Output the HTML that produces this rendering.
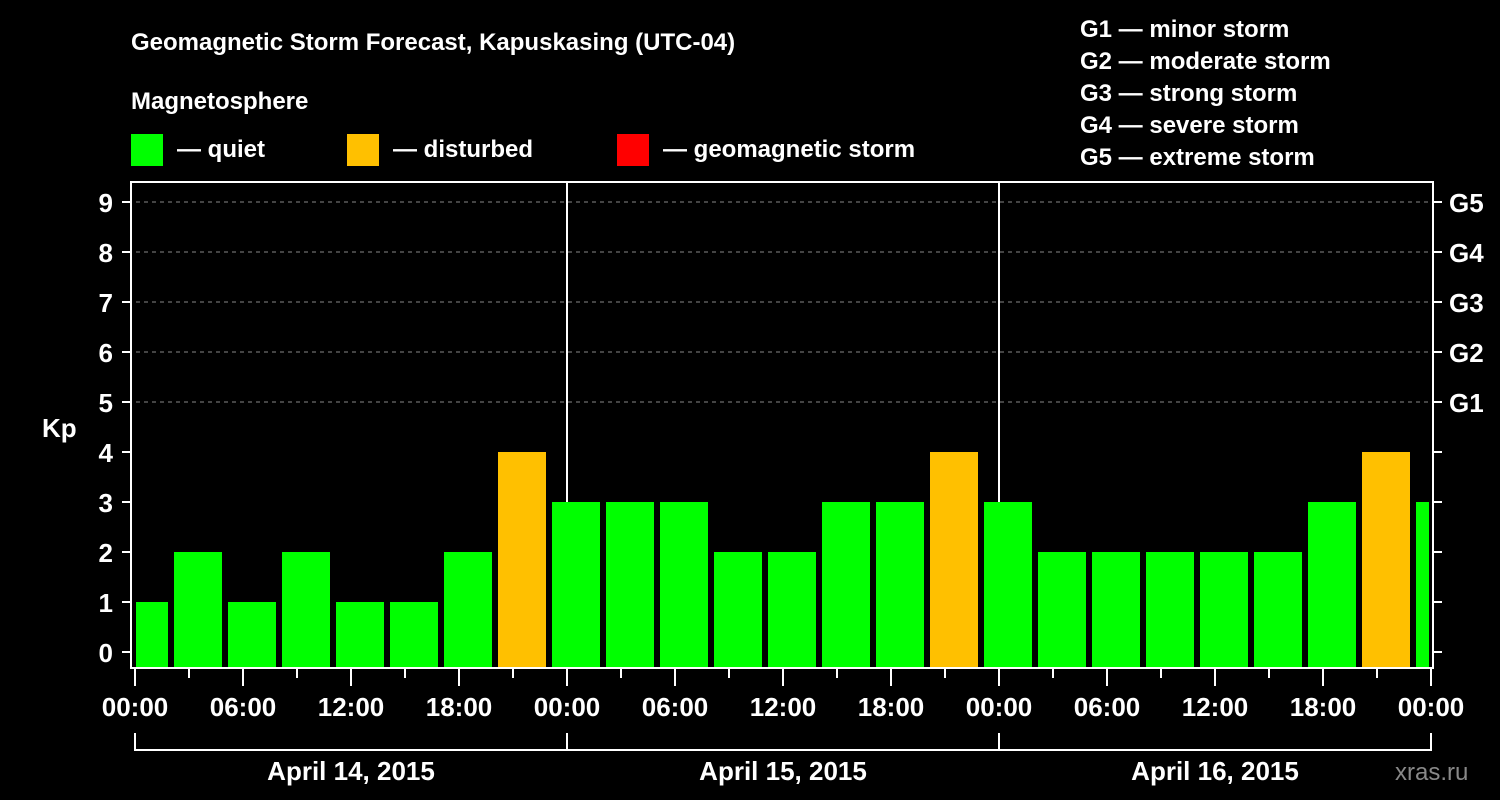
<!DOCTYPE html>
<html><head><meta charset="utf-8"><style>
html,body{margin:0;padding:0;background:#000;}
svg{display:block;font-family:"Liberation Sans",Arial,sans-serif;font-weight:bold;}
</style></head><body>
<svg id="c" width="1500" height="800" viewBox="0 0 1500 800">
<rect width="1500" height="800" fill="#000"/>
<text x="131" y="50" fill="#fff" font-size="24">Geomagnetic Storm Forecast, Kapuskasing (UTC-04)</text>
<text x="131" y="109" fill="#fff" font-size="24">Magnetosphere</text>
<g><rect x="131" y="134" width="32" height="32" fill="#00ff00"/><text x="177" y="157" fill="#fff" font-size="24">— quiet</text></g>
<g><rect x="347" y="134" width="32" height="32" fill="#ffc000"/><text x="393" y="157" fill="#fff" font-size="24">— disturbed</text></g>
<g><rect x="617" y="134" width="32" height="32" fill="#ff0000"/><text x="663" y="157" fill="#fff" font-size="24">— geomagnetic storm</text></g>
<g fill="#fff" font-size="24">
<text x="1080" y="37">G1 — minor storm</text>
<text x="1080" y="69">G2 — moderate storm</text>
<text x="1080" y="101">G3 — strong storm</text>
<text x="1080" y="133">G4 — severe storm</text>
<text x="1080" y="165">G5 — extreme storm</text>
</g>
<text x="42" y="437" fill="#fff" font-size="26">Kp</text>
<text x="1395" y="780" fill="#888" font-size="24" font-weight="normal">xras.ru</text>
<defs><clipPath id="pc"><rect x="136" y="182" width="1293" height="486"/></clipPath></defs>
<g id="grid"></g>
<g id="bars" clip-path="url(#pc)"></g>
<g id="axes"></g>
</svg>
<script>
const kpValues=[1,2,1,2,1,1,2,4, 3,3,3,2,2,3,3,4, 3,2,2,2,2,2,3,4, 3];
const yTicks=[0,1,2,3,4,5,6,7,8,9];
const gLabels=["G1","G2","G3","G4","G5"];
const xTickLabels=["00:00","06:00","12:00","18:00","00:00","06:00","12:00","18:00","00:00","06:00","12:00","18:00","00:00"];
const dayLabels=["April 14, 2015","April 15, 2015","April 16, 2015"];
const NS="http://www.w3.org/2000/svg";
const x0=135,pxPerHour=18,yZero=652,pxPerKp=50;
const xs=h=>x0+h*pxPerHour;
const ys=v=>yZero-v*pxPerKp;
function mk(tag,at,parent,txt){const e=document.createElementNS(NS,tag);for(const k in at)e.setAttribute(k,at[k]);if(txt!==undefined)e.textContent=txt;parent.appendChild(e);return e;}
const grid=document.getElementById('grid'),bars=document.getElementById('bars'),axes=document.getElementById('axes');
const color=v=>v>=5?"#ff0000":(v>=4?"#ffc000":"#00ff00");
kpValues.forEach((v,i)=>{const c=xs(3*i+0.5);
 const r=mk('rect',{x:c-24,y:ys(v),width:48,height:668-ys(v),fill:color(v)},bars);
 
 });
// gridlines G1..G5 at Kp 5..9
gLabels.forEach((g,i)=>{const y=ys(5+i);
 const l=mk('line',{x1:136,x2:1432,y1:y,y2:y,stroke:'#888','stroke-dasharray':'4,4','stroke-width':1},grid);
 
 
 const t=mk('text',{x:1449,y:y+10,fill:'#fff','font-size':26},axes,g);
 
 });
// day separators
[1,2].forEach(d=>{const l=mk('line',{x1:xs(24*d),x2:xs(24*d),y1:182,y2:668,stroke:'#fff','stroke-width':2},grid);
 
 });
// frame
const f=mk('rect',{x:131,y:182,width:1302,height:486,fill:'none',stroke:'#fff','stroke-width':2},axes);


yTicks.forEach(v=>{const y=ys(v);
 mk('line',{x1:122,x2:131,y1:y,y2:y,stroke:'#fff','stroke-width':2},axes);
 mk('line',{x1:1433,x2:1442,y1:y,y2:y,stroke:'#fff','stroke-width':2},axes);
 const t=mk('text',{x:113,y:y+10,fill:'#fff','font-size':26,'text-anchor':'end'},axes,String(v));
 
 });
for(let h=0;h<=72;h+=3){const x=xs(h);
 mk('line',{x1:x,x2:x,y1:669,y2:h%6===0?686:678,stroke:'#fff','stroke-width':2},axes);}
xTickLabels.forEach((s,i)=>{const t=mk('text',{x:xs(6*i),y:716,fill:'#fff','font-size':26,'text-anchor':'middle'},axes,s);
 
 });
mk('line',{x1:xs(0),x2:xs(72),y1:750,y2:750,stroke:'#fff','stroke-width':2},axes);
for(let d=0;d<=3;d++){mk('line',{x1:xs(24*d),x2:xs(24*d),y1:733,y2:751,stroke:'#fff','stroke-width':2},axes);}
dayLabels.forEach((s,i)=>{const t=mk('text',{x:xs(24*i+12),y:780,fill:'#fff','font-size':26,'text-anchor':'middle'},axes,s);
 
 });
</script>
</body></html>
